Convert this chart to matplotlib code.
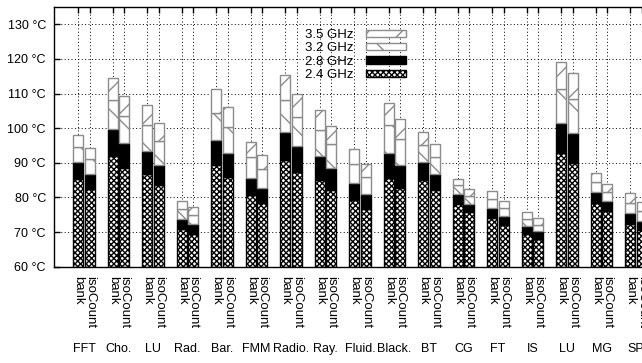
import matplotlib
matplotlib.use("Agg")
import matplotlib.pyplot as plt
import numpy as np
from matplotlib.patches import Patch

plt.rcParams['font.family'] = ['Liberation Sans', 'DejaVu Sans']
plt.rcParams['hatch.linewidth'] = 1.0

benchmarks = ["FFT", "Cho.", "LU", "Rad.", "Bar.", "FMM", "Radio.", "Ray.", "Fluid.",
              "Black.", "BT", "CG", "FT", "IS", "LU", "MG", "SP"]
variants = ["bank", "isoCount"]
freqs = ["2.4 GHz", "2.8 GHz", "3.2 GHz", "3.5 GHz"]

bank_24 = [85.2, 92.0, 86.8, 70.8, 89.4, 80.7, 90.8, 85.1, 79.3, 85.7, 85.0, 78.1, 74.1, 69.4, 92.8, 78.5, 72.3]
bank_28 = [90.1, 99.9, 93.5, 73.9, 96.7, 85.7, 98.9, 92.1, 84.2, 92.9, 90.1, 81.0, 77.0, 71.8, 101.4, 81.6, 75.6]
bank_32 = [94.5, 108.0, 100.9, 76.6, 104.5, 91.6, 108.1, 99.6, 89.6, 100.8, 95.1, 83.7, 79.5, 73.9, 111.2, 84.6, 78.5]
bank_35 = [98.0, 114.4, 106.7, 78.9, 111.3, 96.1, 115.3, 105.2, 93.9, 107.3, 98.9, 85.4, 81.8, 75.7, 119.2, 87.0, 81.3]

iso_24 = [82.5, 88.6, 83.5, 69.5, 86.0, 78.3, 87.4, 82.2, 76.6, 82.7, 82.2, 75.8, 72.0, 68.1, 89.9, 76.0, 70.5]
iso_28 = [86.8, 95.8, 89.5, 72.2, 92.9, 82.7, 95.0, 88.5, 81.1, 89.5, 86.9, 78.1, 74.6, 70.3, 98.6, 79.1, 73.3]
iso_32 = [91.0, 103.4, 96.2, 75.0, 100.3, 88.3, 103.2, 95.5, 85.8, 96.8, 91.6, 80.4, 77.0, 72.1, 108.4, 81.7, 76.1]
iso_35 = [94.2, 109.2, 101.4, 77.1, 106.0, 92.4, 109.8, 100.5, 89.7, 102.7, 95.3, 82.4, 78.9, 74.0, 115.9, 83.8, 78.6]

yticks = [60, 70, 80, 90, 100, 110, 120, 130]
ymin, ymax = 60, 135

GRAY = "#8c8c8c"
styles = [
    dict(facecolor="white", edgecolor="black", hatch="xxxxxx"),
    dict(facecolor="black", edgecolor="black", hatch=None),
    dict(facecolor="white", edgecolor=GRAY, hatch="\\"),
    dict(facecolor="white", edgecolor=GRAY, hatch="/"),
]

FS = 9

fig = plt.figure(figsize=(6.42, 3.63), dpi=100)
ax = fig.add_axes([54.3 / 642, 96.3 / 363, 1 - 54.3 / 642 + 0.01, (266.7 - 7) / 363])

n = len(benchmarks)
group_x = np.arange(n) * 3.0
width = 0.88
series = {"bank": [bank_24, bank_28, bank_32, bank_35],
          "isoCount": [iso_24, iso_28, iso_32, iso_35]}

tick_pos, tick_lab = [], []
for vi, var in enumerate(variants):
    xs = group_x + vi * 1.0
    levels = series[var]
    prev = np.full(n, float(ymin))
    for k in range(4):
        top = np.array(levels[k])
        ax.bar(xs, top - prev, bottom=prev, width=width, linewidth=1.0, zorder=2, **styles[k])
        prev = top
    tick_pos.extend(xs)
    tick_lab.extend([var] * n)

order = np.argsort(tick_pos)
ax.set_xticks(np.array(tick_pos)[order])
ax.set_xticklabels(np.array(tick_lab)[order], rotation=-90, va="top", ha="center", fontsize=FS + 0.5)
ax.set_xlim(-2.08, (642 - 78) / 11.4 + 0.1)
ax.set_ylim(ymin, ymax)
ax.set_yticks(yticks)
ax.set_yticklabels([f"{v} °C" for v in yticks], fontsize=FS)

ax.tick_params(axis="x", direction="in", top=True, bottom=True, length=4, pad=7, width=1.0)
ax.tick_params(axis="y", direction="in", left=True, right=False, length=4, pad=6, width=1.0)
ax.grid(True, color="black", linestyle=(0, (1, 2.5)), linewidth=0.7)
ax.set_axisbelow(True)
for s in ["left", "bottom", "top"]:
    ax.spines[s].set_linewidth(1.0)
ax.spines["right"].set_visible(False)

for i, name in enumerate(benchmarks):
    ax.text(group_x[i] + 0.5, -0.317, name, transform=ax.get_xaxis_transform(),
            ha="center", va="center", fontsize=FS)

handles = [Patch(linewidth=1.0, **styles[k]) for k in [3, 2, 1, 0]]
labels = [freqs[k] for k in [3, 2, 1, 0]]
leg = ax.legend(handles, labels, loc="upper left",
                bbox_to_anchor=((302 - 54.3) / 587.7, 1 - (29 - 7) / 259.7),
                frameon=False, markerfirst=False, fontsize=FS + 0.5, handlelength=3.0, handleheight=0.5,
                labelspacing=0.1, borderpad=0, borderaxespad=0, handletextpad=1.0)

fig.savefig("out.png", dpi=100)
